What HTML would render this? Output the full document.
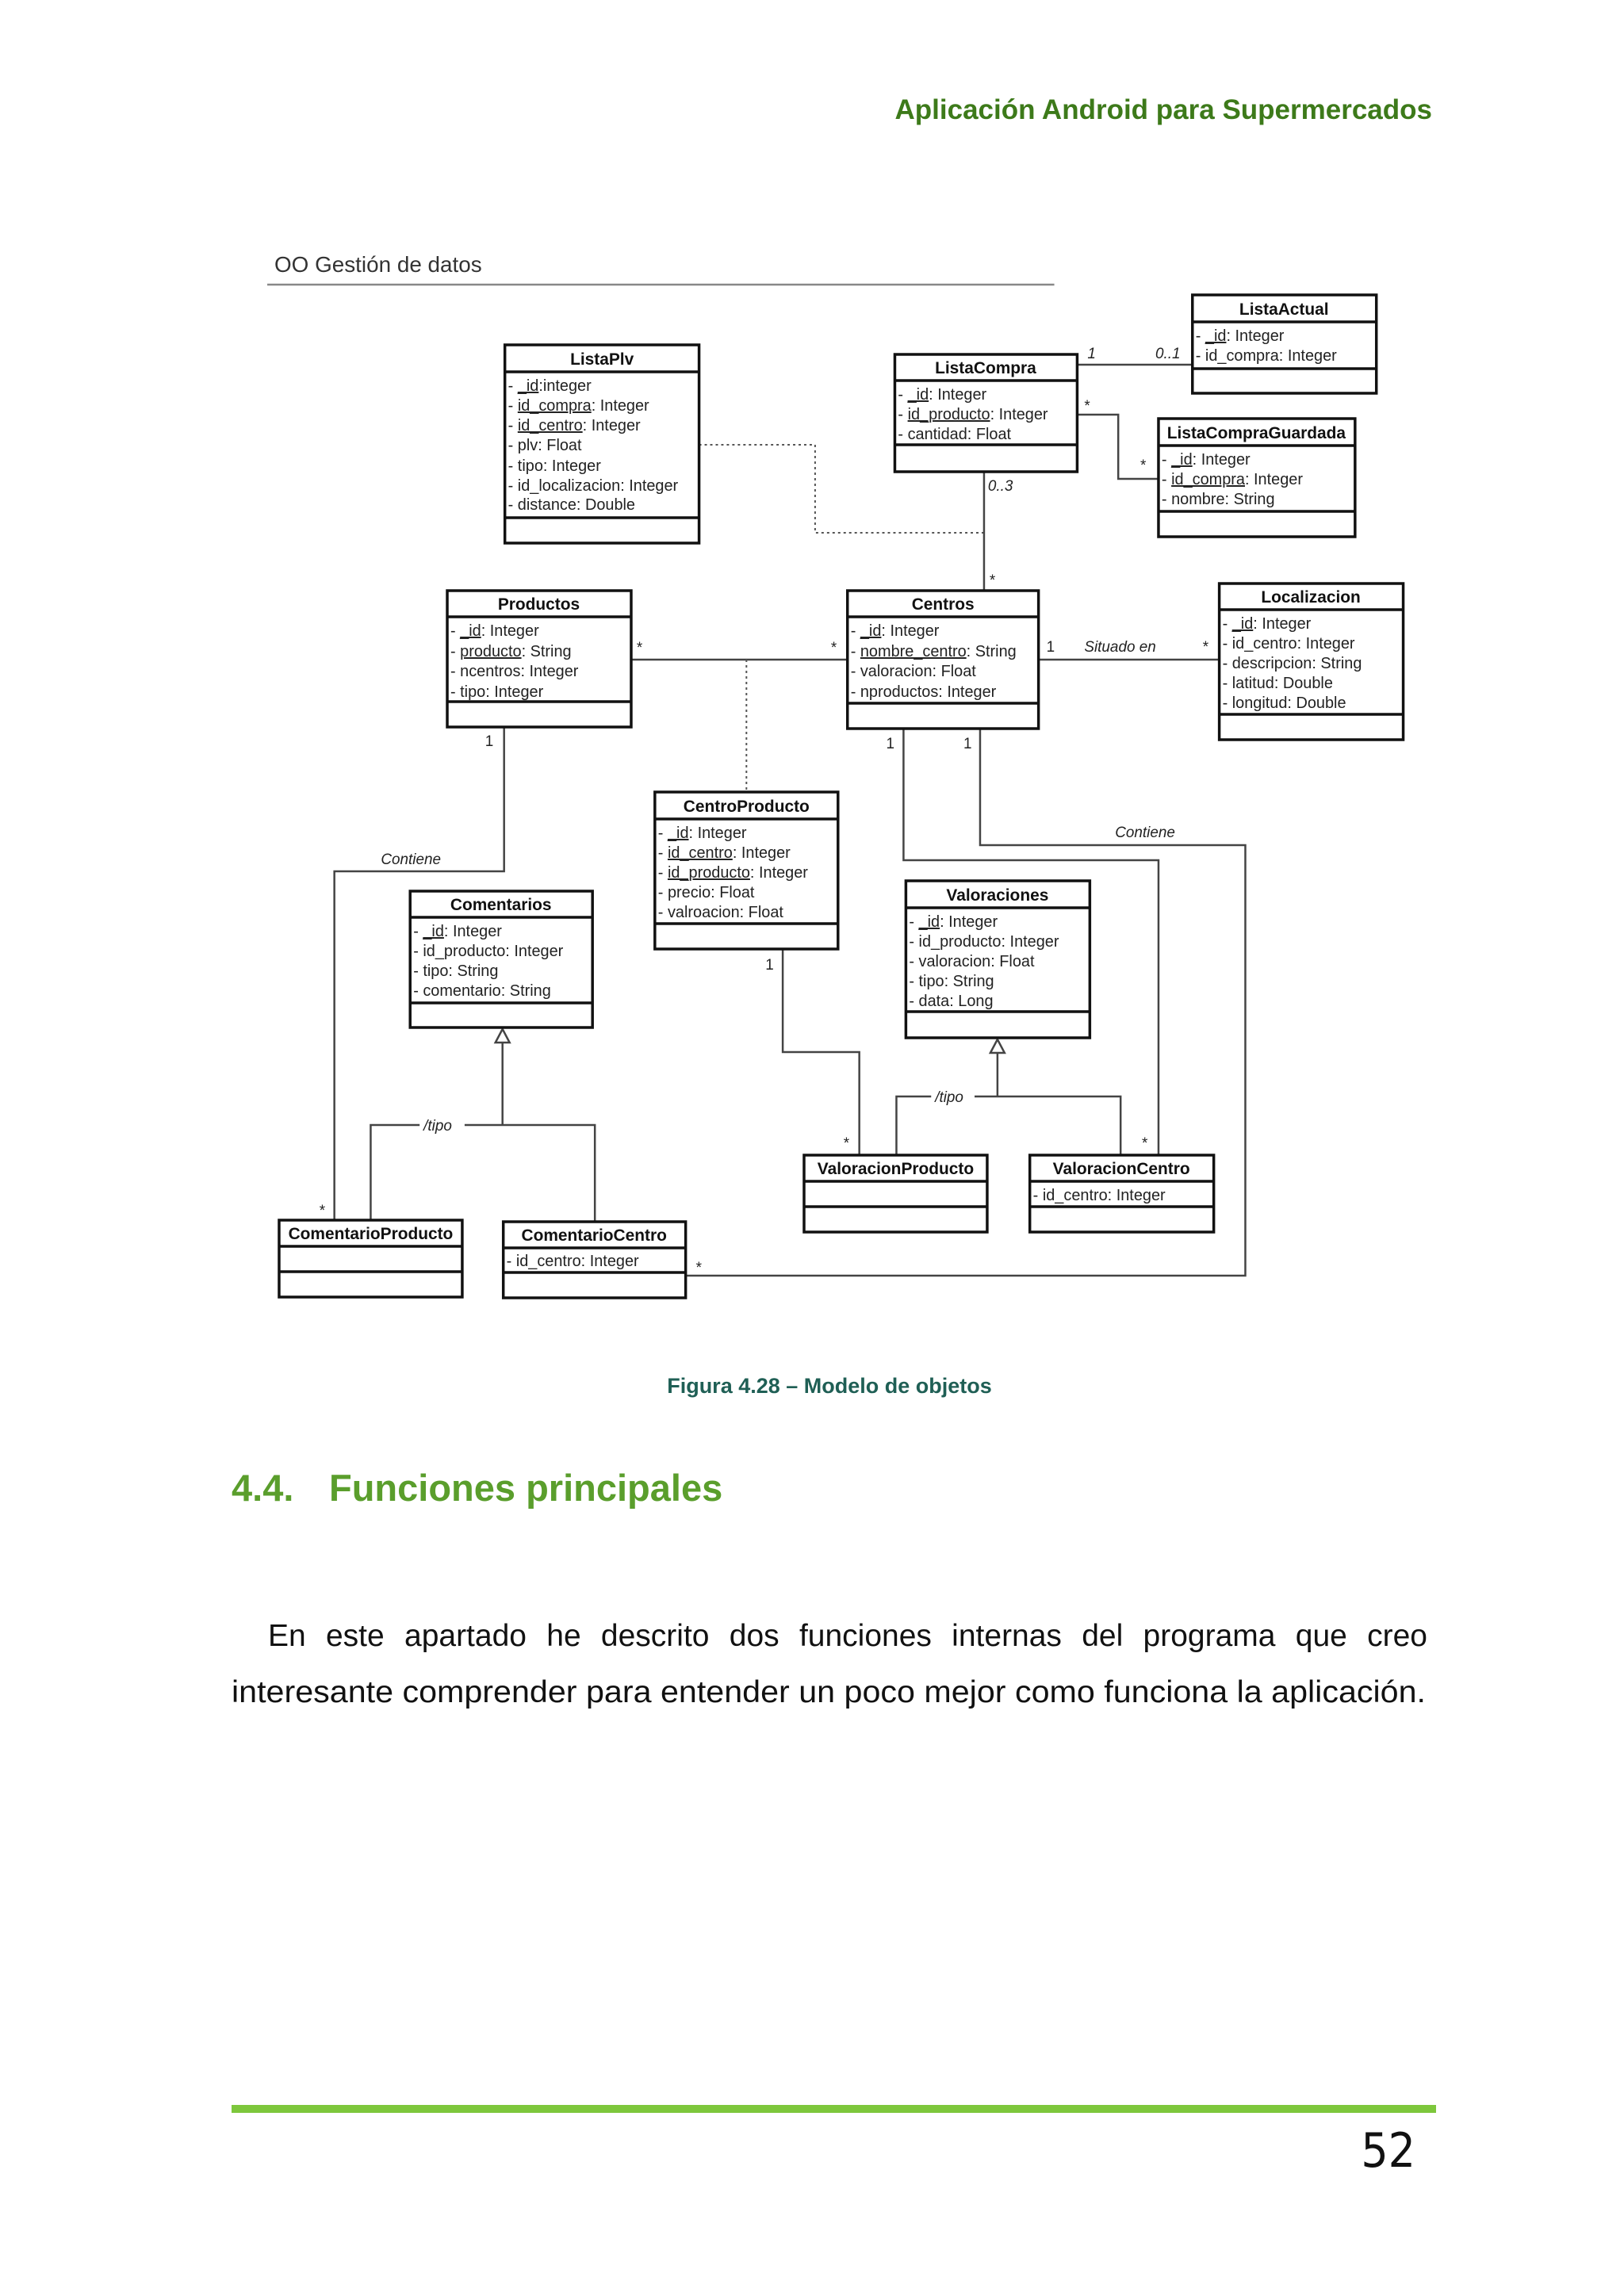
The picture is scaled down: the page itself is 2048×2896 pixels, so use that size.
<!DOCTYPE html>
<html><head><meta charset="utf-8"><style>
html,body{margin:0;padding:0;background:#fff}
body{width:2048px;height:2896px;position:relative;overflow:hidden}
svg{position:absolute;left:0;top:0}
.h{font:bold 21px "Liberation Sans",sans-serif;fill:#111}
.a{font:20px "Liberation Sans",sans-serif;fill:#222}
.l{font:italic 19px "Liberation Sans",sans-serif;fill:#222}
.m{font:19px "Liberation Sans",sans-serif;fill:#222}
.u{text-decoration:underline}
.b{fill:#fff;stroke:#111;stroke-width:3.5}
.d{stroke:#111;stroke-width:3.5}
.c{fill:none;stroke:#444;stroke-width:2.5}
.dt{fill:none;stroke:#555;stroke-width:2;stroke-dasharray:3 4}
#p1{position:absolute;left:338px;top:2040px;width:1462px;font:39px "Liberation Sans",sans-serif;color:#111;text-align:justify;text-align-last:justify;white-space:nowrap;line-height:48px}
</style></head><body>
<svg width="2048" height="2896" viewBox="0 0 2048 2896" xmlns="http://www.w3.org/2000/svg">
<text x="1806" y="150" text-anchor="end" style="font:bold 35px 'Liberation Sans',sans-serif;fill:#3d7a1a">Aplicación Android para Supermercados</text>

<g transform="translate(346,0) scale(0.9955,1) translate(-346,0)">
<text x="346" y="343" style="font:28px 'Liberation Sans',sans-serif;fill:#333">OO Gestión de datos</text>
<line x1="337" y1="359" x2="1334" y2="359" stroke="#888" stroke-width="2.5"/>

<polyline class="c" points="1363,460 1509,460"/>
<polyline class="c" points="1363,523 1415,523 1415,604 1466,604"/>
<polyline class="dt" points="884,561 1031,561 1031,672 1245,672"/>
<polyline class="c" points="1245,595 1245,745"/>
<polyline class="c" points="798,832 1072,832"/>
<polyline class="dt" points="944,832 944,999"/>
<polyline class="c" points="1314,832 1543,832"/>
<polyline class="c" points="637,917 637,1099 422,1099 422,1539"/>
<polyline class="c" points="1143,919 1143,1085 1466,1085 1466,1457"/>
<polyline class="c" points="1240,919 1240,1066 1576,1066 1576,1609 867,1609"/>
<polyline class="c" points="990,1197 990,1327 1087,1327 1087,1457"/>
<polyline class="c" points="635,1315 635,1419"/>
<polyline class="c" points="468,1539 468,1419 530,1419"/>
<polyline class="c" points="587,1419 752,1419 752,1541"/>
<polyline class="c" points="1262,1328 1262,1383"/>
<polyline class="c" points="1134,1457 1134,1383 1178,1383"/>
<polyline class="c" points="1233,1383 1418,1383 1418,1457"/>
<polygon points="635,1298 626,1315 644,1315" fill="#fff" stroke="#444" stroke-width="2.5"/>
<polygon points="1262,1311 1253,1328 1271,1328" fill="#fff" stroke="#444" stroke-width="2.5"/>

<text class="l" x="1376" y="452">1</text>
<text class="l" x="1462" y="452">0..1</text>
<text class="m" x="1372" y="518">*</text>
<text class="m" x="1443" y="593">*</text>
<text class="l" x="1250" y="619">0..3</text>
<text class="m" x="1252" y="738">*</text>
<text class="m" x="805" y="823">*</text>
<text class="m" x="1051" y="823">*</text>
<text class="m" x="1324" y="822">1</text>
<text class="l" x="1372" y="822">Situado en</text>
<text class="m" x="1522" y="822">*</text>
<text class="m" x="613" y="941">1</text>
<text class="m" x="1121" y="944">1</text>
<text class="m" x="1219" y="944">1</text>
<text class="l" x="481" y="1090">Contiene</text>
<text class="l" x="1411" y="1056">Contiene</text>
<text class="m" x="968" y="1223">1</text>
<text class="m" x="1067" y="1448">*</text>
<text class="m" x="1445" y="1448">*</text>
<text class="m" x="403" y="1533">*</text>
<text class="m" x="880" y="1605">*</text>
<text class="l" x="535" y="1426">/tipo</text>
<text class="l" x="1183" y="1390">/tipo</text>

<rect class="b" x="638" y="435" width="246" height="250"/>
<line class="d" x1="638" y1="469" x2="884" y2="469"/><line class="d" x1="638" y1="653" x2="884" y2="653"/>
<text class="h" x="761" y="460" text-anchor="middle">ListaPlv</text>
<text class="a" x="642" y="493">- <tspan class="u">_id</tspan>:integer</text>
<text class="a" x="642" y="518">- <tspan class="u">id_compra</tspan>: Integer</text>
<text class="a" x="642" y="543">- <tspan class="u">id_centro</tspan>: Integer</text>
<text class="a" x="642" y="568">- plv: Float</text>
<text class="a" x="642" y="594">- tipo: Integer</text>
<text class="a" x="642" y="619">- id_localizacion: Integer</text>
<text class="a" x="642" y="643">- distance: Double</text>

<rect class="b" x="1132" y="447" width="231" height="148"/>
<line class="d" x1="1132" y1="480" x2="1363" y2="480"/><line class="d" x1="1132" y1="561" x2="1363" y2="561"/>
<text class="h" x="1247" y="471" text-anchor="middle">ListaCompra</text>
<text class="a" x="1136" y="504">- <tspan class="u">_id</tspan>: Integer</text>
<text class="a" x="1136" y="529">- <tspan class="u">id_producto</tspan>: Integer</text>
<text class="a" x="1136" y="554">- cantidad: Float</text>

<rect class="b" x="1509" y="372" width="233" height="124"/>
<line class="d" x1="1509" y1="406" x2="1742" y2="406"/><line class="d" x1="1509" y1="465" x2="1742" y2="465"/>
<text class="h" x="1625" y="397" text-anchor="middle">ListaActual</text>
<text class="a" x="1513" y="430">- <tspan class="u">_id</tspan>: Integer</text>
<text class="a" x="1513" y="455">- id_compra: Integer</text>

<rect class="b" x="1466" y="528" width="249" height="149"/>
<line class="d" x1="1466" y1="562" x2="1715" y2="562"/><line class="d" x1="1466" y1="645" x2="1715" y2="645"/>
<text class="h" x="1590" y="553" text-anchor="middle">ListaCompraGuardada</text>
<text class="a" x="1470" y="586">- <tspan class="u">_id</tspan>: Integer</text>
<text class="a" x="1470" y="611">- <tspan class="u">id_compra</tspan>: Integer</text>
<text class="a" x="1470" y="636">- nombre: String</text>

<rect class="b" x="565" y="745" width="233" height="172"/>
<line class="d" x1="565" y1="778" x2="798" y2="778"/><line class="d" x1="565" y1="885" x2="798" y2="885"/>
<text class="h" x="681" y="769" text-anchor="middle">Productos</text>
<text class="a" x="569" y="802">- <tspan class="u">_id</tspan>: Integer</text>
<text class="a" x="569" y="828">- <tspan class="u">producto</tspan>: String</text>
<text class="a" x="569" y="853">- ncentros: Integer</text>
<text class="a" x="569" y="879">- tipo: Integer</text>

<rect class="b" x="1072" y="745" width="242" height="174"/>
<line class="d" x1="1072" y1="778" x2="1314" y2="778"/><line class="d" x1="1072" y1="887" x2="1314" y2="887"/>
<text class="h" x="1193" y="769" text-anchor="middle">Centros</text>
<text class="a" x="1076" y="802">- <tspan class="u">_id</tspan>: Integer</text>
<text class="a" x="1076" y="828">- <tspan class="u">nombre_centro</tspan>: String</text>
<text class="a" x="1076" y="853">- valoracion: Float</text>
<text class="a" x="1076" y="879">- nproductos: Integer</text>

<rect class="b" x="1543" y="736" width="233" height="197"/>
<line class="d" x1="1543" y1="769" x2="1776" y2="769"/><line class="d" x1="1543" y1="901" x2="1776" y2="901"/>
<text class="h" x="1659" y="760" text-anchor="middle">Localizacion</text>
<text class="a" x="1547" y="793">- <tspan class="u">_id</tspan>: Integer</text>
<text class="a" x="1547" y="818">- id_centro: Integer</text>
<text class="a" x="1547" y="843">- descripcion: String</text>
<text class="a" x="1547" y="868">- latitud: Double</text>
<text class="a" x="1547" y="893">- longitud: Double</text>

<rect class="b" x="828" y="999" width="232" height="198"/>
<line class="d" x1="828" y1="1033" x2="1060" y2="1033"/><line class="d" x1="828" y1="1165" x2="1060" y2="1165"/>
<text class="h" x="944" y="1024" text-anchor="middle">CentroProducto</text>
<text class="a" x="832" y="1057">- <tspan class="u">_id</tspan>: Integer</text>
<text class="a" x="832" y="1082">- <tspan class="u">id_centro</tspan>: Integer</text>
<text class="a" x="832" y="1107">- <tspan class="u">id_producto</tspan>: Integer</text>
<text class="a" x="832" y="1132">- precio: Float</text>
<text class="a" x="832" y="1157">- valroacion: Float</text>

<rect class="b" x="518" y="1124" width="231" height="172"/>
<line class="d" x1="518" y1="1157" x2="749" y2="1157"/><line class="d" x1="518" y1="1265" x2="749" y2="1265"/>
<text class="h" x="633" y="1148" text-anchor="middle">Comentarios</text>
<text class="a" x="522" y="1181">- <tspan class="u">_id</tspan>: Integer</text>
<text class="a" x="522" y="1206">- id_producto: Integer</text>
<text class="a" x="522" y="1231">- tipo: String</text>
<text class="a" x="522" y="1256">- comentario: String</text>

<rect class="b" x="1146" y="1111" width="233" height="198"/>
<line class="d" x1="1146" y1="1145" x2="1379" y2="1145"/><line class="d" x1="1146" y1="1276" x2="1379" y2="1276"/>
<text class="h" x="1262" y="1136" text-anchor="middle">Valoraciones</text>
<text class="a" x="1150" y="1169">- <tspan class="u">_id</tspan>: Integer</text>
<text class="a" x="1150" y="1194">- id_producto: Integer</text>
<text class="a" x="1150" y="1219">- valoracion: Float</text>
<text class="a" x="1150" y="1244">- tipo: String</text>
<text class="a" x="1150" y="1269">- data: Long</text>

<rect class="b" x="1017" y="1457" width="232" height="97"/>
<line class="d" x1="1017" y1="1490" x2="1249" y2="1490"/><line class="d" x1="1017" y1="1522" x2="1249" y2="1522"/>
<text class="h" x="1133" y="1481" text-anchor="middle">ValoracionProducto</text>

<rect class="b" x="1303" y="1457" width="233" height="97"/>
<line class="d" x1="1303" y1="1490" x2="1536" y2="1490"/><line class="d" x1="1303" y1="1522" x2="1536" y2="1522"/>
<text class="h" x="1419" y="1481" text-anchor="middle">ValoracionCentro</text>
<text class="a" x="1307" y="1514">- id_centro: Integer</text>

<rect class="b" x="352" y="1539" width="232" height="97"/>
<line class="d" x1="352" y1="1572" x2="584" y2="1572"/><line class="d" x1="352" y1="1604" x2="584" y2="1604"/>
<text class="h" x="468" y="1563" text-anchor="middle">ComentarioProducto</text>

<rect class="b" x="636" y="1541" width="231" height="96"/>
<line class="d" x1="636" y1="1574" x2="867" y2="1574"/><line class="d" x1="636" y1="1605" x2="867" y2="1605"/>
<text class="h" x="751" y="1565" text-anchor="middle">ComentarioCentro</text>
<text class="a" x="640" y="1597">- id_centro: Integer</text>
</g>

<text x="1046" y="1757" text-anchor="middle" style="font:bold 27px 'Liberation Sans',sans-serif;fill:#1f5f55">Figura 4.28 – Modelo de objetos</text>

<text x="292" y="1893" style="font:bold 47px 'Liberation Sans',sans-serif;fill:#5a9e2c">4.4.</text>
<text x="415" y="1893" style="font:bold 47px 'Liberation Sans',sans-serif;fill:#5a9e2c">Funciones principales</text>

<text x="292" y="2147" textLength="1506" lengthAdjust="spacingAndGlyphs" style="font:39px 'Liberation Sans',sans-serif;fill:#111">interesante comprender para entender un poco mejor como funciona la aplicación.</text>

<rect x="292" y="2655" width="1519" height="10" fill="#7dc73c"/>
<text x="1785" y="2733" text-anchor="end" style="font:60px 'DejaVu Sans Condensed','DejaVu Sans',sans-serif;fill:#111">52</text>
</svg>
<div id="p1">En este apartado he descrito dos funciones internas del programa que creo</div>
</body></html>
